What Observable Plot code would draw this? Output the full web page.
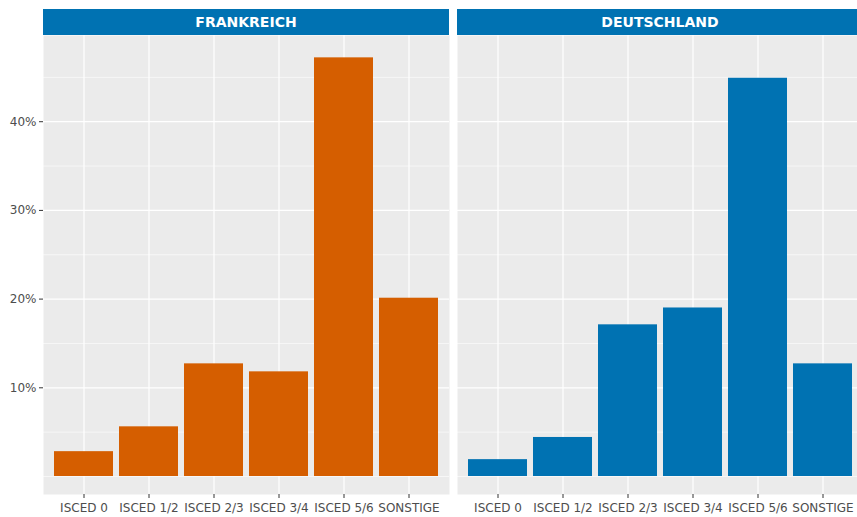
<!DOCTYPE html>
<html><head><meta charset="utf-8">
<script src="https://cdn.jsdelivr.net/npm/d3@7"></script>
<script src="https://cdn.jsdelivr.net/npm/@observablehq/plot@0.6"></script>
<style>
html,body{margin:0;padding:0;background:#fff;overflow:hidden;width:857px;height:517px}
#chart svg{display:block;max-width:none !important;height:517px !important}
</style></head><body><div id="chart"></div>
<script>
const countries = ["FRANKREICH", "DEUTSCHLAND"];
const categories = ["ISCED 0", "ISCED 1/2", "ISCED 2/3", "ISCED 3/4", "ISCED 5/6", "SONSTIGE"];
const frankreich = [2.8, 5.6, 12.7, 11.8, 47.2, 20.1];
const deutschland = [1.9, 4.4, 17.1, 19.0, 44.9, 12.7];
const yMajor = [10, 20, 30, 40];
const yMinor = [0, 5, 15, 25, 35, 45];
const countryColors = ["#D55E00", "#0072B2"];
const stripColor = "#0072B2";

const data = [];
countries.forEach((c, i) => {
  const vals = i === 0 ? frankreich : deutschland;
  categories.forEach((k, j) => data.push({country: c, category: k, value: vals[j]}));
});

const plot = Plot.plot({
  width: 864, height: 517,
  marginLeft: 43, marginRight: 1, marginTop: 35, marginBottom: 23,
  style: {fontFamily: "'DejaVu Sans', sans-serif", background: "white", overflow: "visible"},
  fx: {domain: countries, paddingInner: 0.02, paddingOuter: 0, axis: null, label: null},
  x: {domain: categories, paddingInner: 0.1, paddingOuter: 0.15, axis: null, label: null},
  y: {domain: [-2.03, 49.72], axis: null, label: null},
  color: {domain: countries, range: countryColors},
  marks: [
    Plot.frame({fill: "#EBEBEB", stroke: "none"}),
    Plot.ruleY(yMinor, {stroke: "white", strokeWidth: 0.6}),
    Plot.gridY(yMajor, {stroke: "white", strokeOpacity: 1, strokeWidth: 1.2}),
    Plot.gridX({stroke: "white", strokeOpacity: 1, strokeWidth: 1.2}),
    Plot.barY(data, {fx: "country", x: "category", y: "value", fill: "country"}),
    Plot.axisY(yMajor, {tickFormat: d => d + "%", tickSize: 4, tickPadding: 3, fontSize: 12, color: "#4D4D4D", stroke: "#333", label: null}),
    Plot.axisX({tickSize: 4, tickPadding: 5, fontSize: 12, color: "#4D4D4D", stroke: "#333", label: null})
  ]
});

document.getElementById("chart").appendChild(plot);

const fxs = plot.scale("fx");
const svg = d3.select(plot);
const g = svg.append("g");
countries.forEach(c => {
  const x0 = fxs.apply(c);
  g.append("rect").attr("x", x0).attr("y", 9).attr("width", fxs.bandwidth).attr("height", 26).attr("fill", stripColor);
  g.append("text").attr("x", x0 + fxs.bandwidth / 2).attr("y", 22).attr("dy", "0.36em")
    .attr("text-anchor", "middle").attr("fill", "white").attr("font-weight", "bold")
    .attr("font-size", 14).text(c);
});
</script></body></html>
